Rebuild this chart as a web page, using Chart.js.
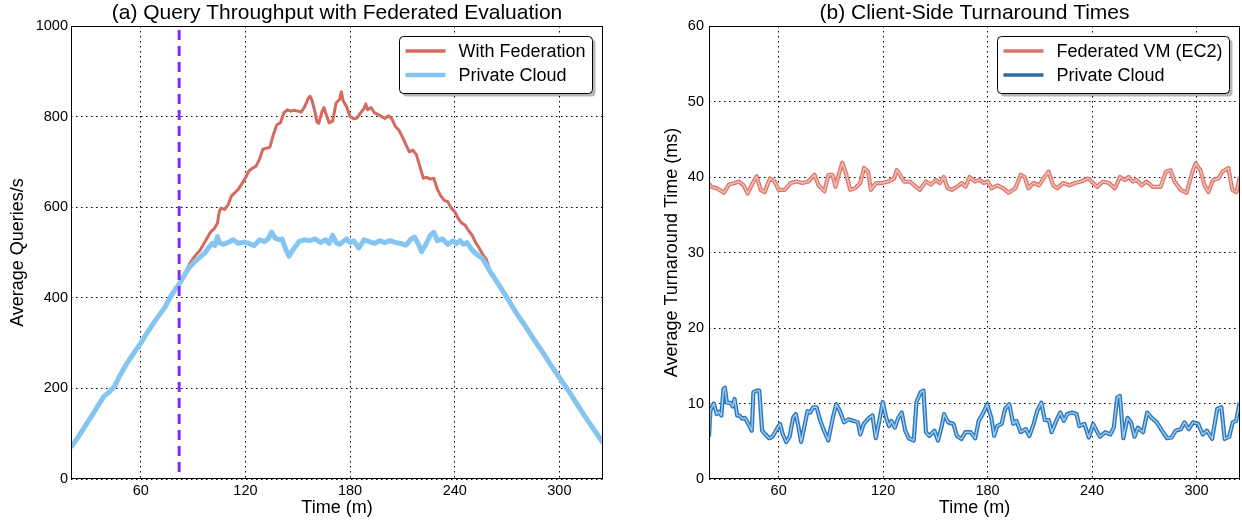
<!DOCTYPE html>
<html><head><meta charset="utf-8">
<script src="https://cdn.jsdelivr.net/npm/chart.js@4.4.1/dist/chart.umd.min.js"></script>
<style>
html,body{margin:0;padding:0;background:#fff;width:1242px;height:527px;overflow:hidden;}
canvas{position:absolute;top:0;}
#c1{left:0;}#c2{left:621px;}
</style></head><body>
<canvas id="c1" width="621" height="527"></canvas>
<canvas id="c2" width="621" height="527"></canvas>
<script>
// ---------- shared axis data ----------
const xMin = 20, xMax = 325;
const xTickValues = [60, 120, 180, 240, 300];
const xAxisTitle = 'Time (m)';

// ---------- (a) Query throughput ----------
const titleA = '(a) Query Throughput with Federated Evaluation';
const yTitleA = 'Average Queries/s';
const labelsA = ['With Federation', 'Private Cloud'];
const yTicksA = [0, 200, 400, 600, 800, 1000];
const federationStart = [82];

const privateTimeA = [20,24,28,32,36,39,42,45,48,52,56,60,64,68,71,74,77,80,82,85,88,91,94,97,99,101,102.5,104,105,107,110,113,116,119,122,125,128,131,133,135,137,139,141,143,145,146,148,151,154,157,160,163,166,168,170,172,174,176,178,180,182,185,188,191,194,197,200,203,206,209,212,215,217,219,221,222,224,226,228,230,233,236,239,241,243,245,247,250,253,256,260,265,270,275,280,285,290,295,300,305,310,315,320,325];
const privateQps = [70,92,116,140,165,183,192,205,228,255,278,300,325,348,364,380,402,420,430,450,468,480,490,500,512,520,515,535,522,518,522,528,520,523,520,515,528,524,530,545,532,528,530,508,492,498,510,525,528,526,530,522,528,520,538,522,518,524,530,522,526,510,528,524,520,526,522,526,522,520,516,530,534,520,502,508,522,538,545,526,530,518,526,520,526,518,522,505,495,486,460,430,400,368,340,310,282,252,224,196,166,136,108,80];

const federationTimeA = [20,24,28,32,36,39,42,45,48,52,56,60,64,68,71,74,77,80,82,85,88,91,94,97,100,102,104,105,106,108,110,112,114,116,118,120,122,124,126,128,130,132,134,136,138,140,142,144,146,148,150,152,154,156,157,158,160,161,162,164,165,166,168,170,171,172,174,175,176,178,180,182,184,186,188,189,190,192,194,196,198,200,202,204,206,208,210,212,214,216,218,220,222,224,226,228,230,232,234,236,238,240,242,244,246,248,250,252,254,256,258,260,265,270,275,280,285,290,295,300,305,310,315,320,325];
const federationQps = [70,92,116,140,165,183,192,205,228,255,278,300,325,348,364,380,402,420,430,452,475,492,505,525,545,552,565,590,598,595,605,625,632,640,652,665,680,686,690,705,728,730,732,760,782,786,808,815,812,814,812,810,822,840,845,838,808,788,785,812,820,808,786,790,810,830,838,855,835,822,800,795,797,808,818,828,815,820,808,805,800,796,802,795,778,770,755,738,722,726,716,690,664,666,662,664,640,625,615,612,598,590,575,565,560,548,538,522,510,496,486,462,433,403,371,343,313,285,255,226,198,168,138,110,82];

// ---------- (b) Turnaround times ----------
const titleB = '(b) Client-Side Turnaround Times';
const yTitleB = 'Average Turnaround Time (ms)';
const labelsB = ['Federated VM (EC2)', 'Private Cloud'];
const yTicksB = [0, 10, 20, 30, 40, 50, 60];

const ec2Time = [20,21,24.6,28.5,31.4,34.9,37.1,39.9,42.2,45.1,47.4,49.7,52,55,57.7,60,63.4,66.9,70.3,73.7,77.1,80.6,82.9,86.3,88.6,90.9,92.7,95,96.6,98.9,101.1,103.9,106.9,109.1,111.4,113,116,119.4,122.9,126.3,127.9,129.7,132,135.4,138.9,141.1,144.6,147.5,150.3,152.6,154.9,157.1,159.4,162.4,165.1,167.4,169.7,172.7,175.4,177.7,180,182.3,185.7,189.1,192.1,196,199,201.3,203.5,206.3,209.7,212,215,217.7,220,223.4,226.9,230.3,233.7,237.8,240.6,242.9,246.3,249.7,253.1,256.1,258.9,261.1,263.4,265.7,268.5,271.4,274.9,279.4,282.4,285.1,287.4,290.9,294.3,297.7,299.5,302.3,304.6,306.9,309.6,312.6,314.9,318.3,320.6,322.9,325];
const ec2Ms = [39.2,38.7,38.5,37.9,39,39.2,39.4,38.9,37.8,39.2,40.1,38.3,38,39.8,39.4,38.3,38.3,39.2,39.4,39.2,39.4,40.3,38.9,38.1,40.3,40.3,38.7,40.7,41.9,40.3,38.3,38.5,39.2,41.2,40.7,38.3,39.2,39.2,39.4,39.8,40.9,40.3,39.4,39.4,38.7,38.3,39.4,39,39.6,39.2,40,38.5,38.3,38.7,39.2,38.7,40,39.4,39.6,39.2,39.4,38.5,38.9,38.5,37.9,38.5,40.3,40,38.5,39.2,38.9,39.8,40.7,38.9,38.5,39.2,38.9,39.2,39.4,39.8,39.2,38.7,39.4,39.2,38.5,40,39.6,40,39.4,39.6,38.9,39.4,38.7,38.7,40.7,40.9,39.4,38.3,37.9,40.7,41.8,40.9,38.9,38,39.6,39.8,40.7,41.2,38.3,38,40];

const privateTimeB = [20,20.8,22.8,24.4,25.7,27.1,28.3,29.1,30.3,32.3,33.7,34.7,36.2,37.6,39,40.6,42.6,44.6,45.5,47.5,48.9,50.5,52.5,54.5,56.4,58.4,60.8,62.4,64.4,66.3,68.3,69.9,71.3,72.9,74.3,76.6,78.2,79.8,81.8,83.8,86.1,88.5,91.1,93.1,95,97.6,100,103,105.5,106.9,108.9,111.9,113.9,115.8,117.8,119.8,121.8,123.4,124.8,126.7,128.7,130.7,132.7,134.7,137.6,139.2,141.6,143.2,144.6,146.5,149.5,151.5,153.5,155,157.4,160.4,162.4,165,167.3,170.3,172.9,174.9,177.2,179.8,182.2,183.8,185.5,188.1,190.1,192.5,194.7,196.6,199,202,204,206.5,208.5,210.9,212.9,215.2,216.8,219.8,221.8,223.8,225.7,228.7,231.1,232.7,235.6,238.2,240.6,242.6,244.6,247.5,250.5,252.5,254.5,256,258,260.4,262.4,264.4,266.3,269.3,271.7,274.3,277.2,280.2,283.1,285.7,288.1,291,293.1,295.6,298,301,303.6,306,309,311.9,314.3,316.2,318.8,320.8,322.8,324.8];
const privateMs = [5.6,9.1,10,8.6,8.9,8.4,11.9,12.1,10.1,10.1,9.6,10.6,8.4,8.4,8,8.1,7.3,6.4,11.5,11.7,11.7,6.4,5.9,5.4,5.6,6.4,7.3,5.9,4.9,5.6,8.1,8.6,7,4.9,6.4,9,8.8,9.5,9.5,7.8,6.4,5.1,8.1,9.9,9.1,7.5,7.9,7.7,7.5,5.9,7.3,8.1,8.4,5.4,7.7,10.2,8.1,7,7.7,6.8,8.1,8.8,6.4,5.4,5.1,10.2,11.5,11.7,6.2,5.7,6.4,5.1,6.8,8.6,7.5,7.3,5.7,5.3,6.2,6.2,5.4,7.7,8.6,9.9,8.1,5.7,7,7.3,9.3,9.9,7.3,7.7,6.2,6.6,5.7,7.3,9,10.1,7.8,7.8,6.2,7.9,8.8,7.7,8.6,8.8,8.6,7,7.3,5.5,7.3,6.4,5.6,6.2,5.9,6.8,10.8,11,5.4,8.1,7.5,5.6,6.8,6.2,8.8,8.1,7.5,6.4,5.4,5.5,6.4,6.6,7.5,6.6,7.5,7.3,5.9,6.4,5.3,9.3,9.5,5.3,5.6,7.5,7.7,10.1];

// ---------- helpers ----------
const FONT = "'Liberation Sans', Arial, Helvetica, sans-serif";
Chart.defaults.font.family = FONT;
Chart.defaults.color = '#000';

function pts(xs, ys) { return xs.map((x, i) => ({ x: x, y: ys[i] })); }

function roundRect(ctx, x, y, w, h, r) {
  ctx.beginPath();
  ctx.moveTo(x + r, y);
  ctx.lineTo(x + w - r, y); ctx.arcTo(x + w, y, x + w, y + r, r);
  ctx.lineTo(x + w, y + h - r); ctx.arcTo(x + w, y + h, x + w - r, y + h, r);
  ctx.lineTo(x + r, y + h); ctx.arcTo(x, y + h, x, y + h - r, r);
  ctx.lineTo(x, y + r); ctx.arcTo(x, y, x + r, y, r);
  ctx.closePath();
}

const frameLegend = {
  id: 'frameLegend',
  afterDatasetsDraw(chart) {
    const { ctx, chartArea: a } = chart;
    ctx.save();
    ctx.strokeStyle = '#000';
    ctx.lineWidth = 1;
    ctx.strokeRect(Math.round(a.left) + 0.5, Math.round(a.top) + 0.5,
      Math.round(a.right - a.left) - 1, Math.round(a.bottom - a.top) - 1);
    ctx.restore();
  },
  afterDraw(chart, args, opts) {
    const ents = opts.entries || [];
    if (!ents.length) return;
    const { ctx, chartArea: a } = chart;
    ctx.save();
    ctx.font = '18px ' + FONT;
    const tw = Math.max(...ents.map(e => ctx.measureText(e.label).width));
    const w = Math.round(66 + tw), h = 57;
    const x = Math.round(a.right - 11 - w) + 0.5, y = Math.round(a.top + 10) + 0.5;
    ctx.fillStyle = 'rgba(0,0,0,0.28)';
    roundRect(ctx, x + 3, y + 3, w, h, 4); ctx.fill();
    ctx.fillStyle = '#fff';
    roundRect(ctx, x, y, w, h, 4); ctx.fill();
    ctx.strokeStyle = '#000'; ctx.lineWidth = 1; ctx.stroke();
    ents.forEach((e, i) => {
      const cy = Math.round(y + 14 + 24 * i);
      ctx.beginPath();
      ctx.strokeStyle = e.color; ctx.lineWidth = e.width; ctx.lineCap = 'butt';
      ctx.moveTo(x + 6, cy); ctx.lineTo(x + 46, cy); ctx.stroke();
      ctx.fillStyle = '#000'; ctx.textBaseline = 'middle'; ctx.textAlign = 'left';
      ctx.fillText(e.label, x + 59, cy + 1);
    });
    ctx.restore();
  }
};

function makeOptions(cfg) {
  const gridCfg = { color: '#000', lineWidth: 1, drawTicks: false };
  const borderCfg = { display: false, dash: [1.5, 3.5] };
  return {
    responsive: false, animation: false, devicePixelRatio: 1,
    layout: { padding: { left: 0, right: cfg.padRight, top: 0, bottom: 0 } },
    elements: { point: { radius: 0 }, line: { tension: 0, borderJoinStyle: 'round', fill: false } },
    plugins: {
      legend: { display: false },
      tooltip: { enabled: false },
      title: { display: true, text: cfg.title, fullSize: false, color: '#000',
        font: { size: 21, weight: 'normal', lineHeight: 1.2 }, padding: { top: 0.8, bottom: 0 } },
      frameLegend: { entries: cfg.entries }
    },
    scales: {
      x: {
        type: 'linear', min: xMin, max: xMax,
        afterBuildTicks: s => { s.ticks = xTickValues.map(v => ({ value: v })); },
        afterFit: s => { s.height = 48; },
        grid: gridCfg, border: borderCfg,
        ticks: { padding: 3, font: { size: 14.5 }, maxRotation: 0, autoSkip: false, color: '#000',
          callback: v => String(v) },
        title: { display: true, text: xAxisTitle, color: '#000', font: { size: 18 }, padding: { top: 0, bottom: 8 } }
      },
      y: {
        type: 'linear', min: cfg.yTicks[0], max: cfg.yTicks[cfg.yTicks.length - 1],
        afterBuildTicks: s => { s.ticks = cfg.yTicks.map(v => ({ value: v })); },
        afterFit: s => { s.width = cfg.yWidth; },
        grid: gridCfg, border: borderCfg,
        ticks: { padding: cfg.yPad, font: { size: 14.5 }, color: '#000', callback: v => String(v) },
        title: { display: true, text: cfg.yTitle, color: '#000', font: { size: 18 }, padding: { top: cfg.yTitlePad, bottom: 0 } }
      }
    }
  };
}

// ---------- chart (a) ----------
const redA = '#d4695e', blueA = '#84c5f2';
new Chart(document.getElementById('c1'), {
  type: 'line',
  data: {
    datasets: [
      { label: labelsA[0], data: pts(federationTimeA, federationQps), borderColor: redA, borderWidth: 3, order: 2 },
      { label: labelsA[1], data: pts(privateTimeA, privateQps), borderColor: blueA, borderWidth: 5, order: 1 },
      { label: 'federation start', data: [{ x: federationStart[0], y: yTicksA[yTicksA.length - 1] }, { x: federationStart[0], y: yTicksA[0] }],
        borderColor: '#8a2be2', borderWidth: 3, borderDash: [10, 6], borderDashOffset: -4, order: 0 }
    ]
  },
  options: makeOptions({
    title: titleA, yTitle: yTitleA, yTicks: yTicksA, yWidth: 71, yPad: 3, yTitlePad: 7, padRight: 18,
    entries: [
      { label: labelsA[0], color: redA, width: 3.3 },
      { label: labelsA[1], color: blueA, width: 4.7 }
    ]
  }),
  plugins: [frameLegend]
});

// ---------- chart (b) ----------
const redOuter = '#dc7a70', redInner = '#f6c0b8', blueOuter = '#2f77ba', blueInner = '#9acff5';
new Chart(document.getElementById('c2'), {
  type: 'line',
  data: {
    datasets: [
      { label: labelsB[0], data: pts(ec2Time, ec2Ms), borderColor: redOuter, borderWidth: 4.2, order: 3 },
      { label: '', data: pts(ec2Time, ec2Ms), borderColor: redInner, borderWidth: 1.4, order: 2 },
      { label: labelsB[1], data: pts(privateTimeB, privateMs), borderColor: blueOuter, borderWidth: 4.2, order: 3 },
      { label: '', data: pts(privateTimeB, privateMs), borderColor: blueInner, borderWidth: 1.4, order: 2 }
    ]
  },
  options: makeOptions({
    title: titleB, yTitle: yTitleB, yTicks: yTicksB, yWidth: 88, yPad: 5, yTitlePad: 40, padRight: 2,
    entries: [
      { label: labelsB[0], color: '#d9736a', width: 3.5 },
      { label: labelsB[1], color: '#2b6ca8', width: 3.5 }
    ]
  }),
  plugins: [frameLegend]
});
</script>
</body></html>
